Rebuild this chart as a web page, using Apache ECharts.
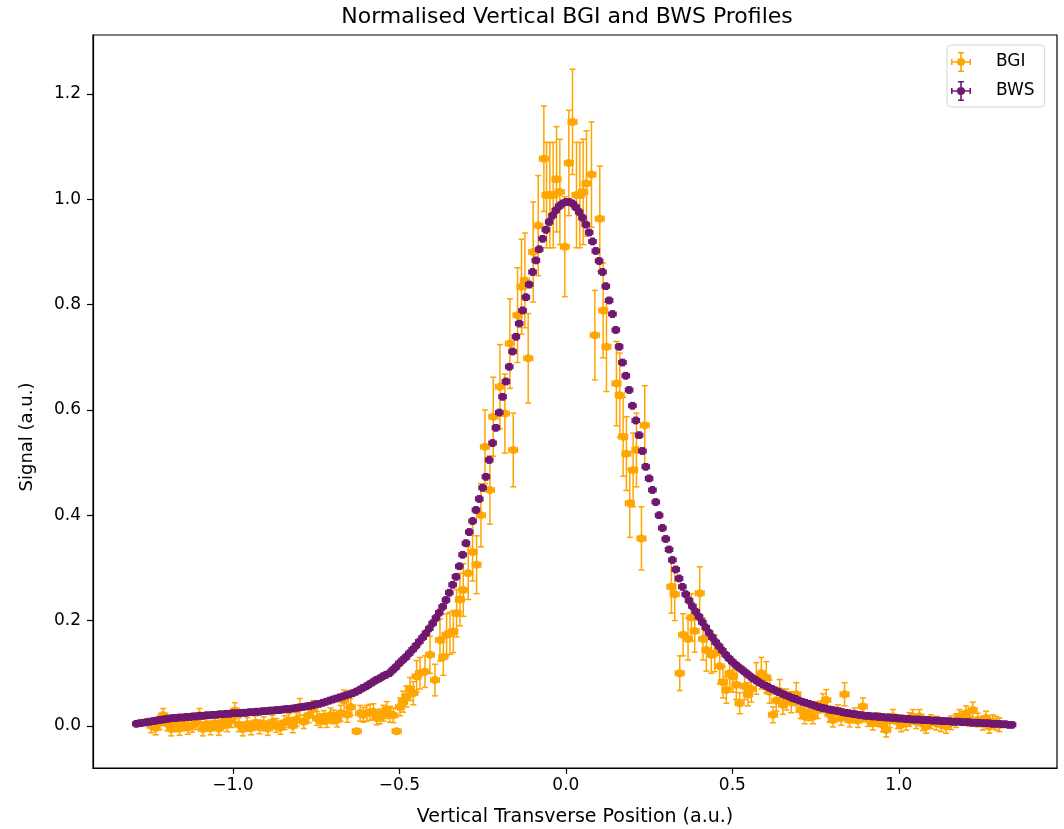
<!DOCTYPE html>
<html>
<head>
<meta charset="utf-8">
<script src="https://cdn.jsdelivr.net/npm/echarts@6/dist/echarts.min.js"></script>
<style>
html,body{margin:0;padding:0;background:#fff;}
#chart{width:1064px;height:829px;}
</style>
</head>
<body>
<div id="chart"></div>
<script>
// ---------- text ----------
const titleText = 'Normalised Vertical BGI and BWS Profiles';
const xAxisName = 'Vertical Transverse Position (a.u.)';
const yAxisName = 'Signal (a.u.)';
const seriesNames = ['BGI', 'BWS'];

// ---------- tick labels ----------
const xTicks = [-1.0, -0.5, 0.0, 0.5, 1.0];
const yTicks = [0.0, 0.2, 0.4, 0.6, 0.8, 1.0, 1.2];

// ---------- BGI (orange, with error bars) ----------
const bgiX = [
  -1.245,-1.232,-1.220,-1.209,-1.197,-1.185,-1.172,-1.160,-1.147,-1.135,
  -1.122,-1.110,-1.100,-1.090,-1.080,-1.067,-1.055,-1.042,-1.030,-1.017,
  -1.005,-0.994,-0.982,-0.970,-0.957,-0.945,-0.932,-0.920,-0.907,-0.895,
  -0.882,-0.870,-0.857,-0.845,-0.832,-0.820,-0.809,-0.799,-0.787,-0.772,
  -0.759,-0.747,-0.737,-0.727,-0.717,-0.707,-0.697,-0.687,-0.676,-0.666,
  -0.656,-0.646,-0.628,-0.618,-0.608,-0.598,-0.588,-0.578,-0.568,-0.558,
  -0.548,-0.538,-0.528,-0.518,-0.508,-0.498,-0.489,-0.479,-0.468,-0.458,
  -0.448,-0.438,-0.423,-0.408,-0.393,-0.378,-0.368,-0.358,-0.348,-0.338,
  -0.328,-0.318,-0.308,-0.293,-0.280,-0.268,-0.255,-0.243,-0.228,-0.218,
  -0.198,-0.183,-0.168,-0.158,-0.145,-0.133,-0.123,-0.113,-0.098,-0.083,
  -0.066,-0.058,-0.048,-0.038,-0.028,-0.018,-0.003,0.009,0.020,0.032,
  0.042,0.052,0.062,0.077,0.087,0.102,0.112,0.122,0.152,0.162,
  0.172,0.182,0.192,0.202,0.212,0.227,0.237,0.317,0.327,0.342,
  0.352,0.367,0.377,0.387,0.402,0.412,0.422,0.437,0.447,0.462,
  0.472,0.482,0.492,0.502,0.512,0.522,0.537,0.547,0.557,0.572,
  0.587,0.602,0.612,0.622,0.632,0.642,0.652,0.662,0.677,0.692,
  0.705,0.717,0.730,0.742,0.757,0.772,0.782,0.792,0.802,0.817,
  0.827,0.837,0.852,0.867,0.877,0.892,0.907,0.922,0.937,0.952,
  0.962,0.972,0.982,0.997,1.007,1.022,1.032,1.042,1.052,1.062,
  1.072,1.082,1.097,1.112,1.127,1.142,1.157,1.172,1.182,1.192,
  1.202,1.212,1.222,1.237,1.252,1.262,1.272,1.282,1.292,1.302
];
const bgiY = [
  0.000,-0.004,0.006,0.020,0.004,-0.006,0.002,-0.005,0.004,-0.003,
  0.001,0.006,0.020,-0.006,0.003,-0.004,0.005,-0.005,0.008,0.002,
  0.010,0.029,0.002,-0.006,0.003,-0.004,0.006,-0.002,0.004,-0.005,
  0.007,0.001,-0.003,0.006,0.010,0.000,0.012,0.036,0.008,0.020,
  0.032,0.014,0.010,0.016,0.010,0.020,0.017,0.011,0.024,0.048,
  0.021,0.036,-0.010,0.024,0.021,0.024,0.026,0.027,0.015,0.018,
  0.024,0.030,0.022,0.020,-0.010,0.036,0.046,0.056,0.070,0.062,
  0.094,0.100,0.103,0.135,0.087,0.163,0.131,0.173,0.176,0.179,
  0.214,0.240,0.258,0.290,0.330,0.306,0.400,0.530,0.448,0.587,
  0.644,0.593,0.726,0.524,0.780,0.834,0.846,0.698,0.900,0.950,
  1.077,1.008,1.008,1.008,1.038,1.014,0.910,1.069,1.147,1.008,
  1.008,1.014,1.030,1.047,0.742,0.963,0.789,0.720,0.650,0.628,
  0.549,0.517,0.423,0.486,0.524,0.356,0.571,0.264,0.250,0.100,
  0.173,0.165,0.206,0.180,0.252,0.165,0.144,0.135,0.138,0.113,
  0.083,0.068,0.100,0.094,0.078,0.043,0.075,0.060,0.070,0.090,
  0.100,0.092,0.065,0.021,0.048,0.066,0.040,0.050,0.045,0.060,
  0.030,0.018,0.025,0.018,0.030,0.043,0.049,0.022,0.011,0.025,
  0.015,0.060,0.011,0.020,0.010,0.037,0.012,0.005,0.012,0.002,
  -0.008,0.010,0.018,0.008,0.002,0.005,0.012,0.018,0.008,0.018,
  0.004,-0.001,0.008,0.005,0.002,-0.001,0.006,0.010,0.018,0.014,
  0.024,0.012,0.030,0.011,0.005,0.015,-0.001,0.008,0.005,0.002
];
const bgiErr = [
  0.013,0.013,0.013,0.013,0.013,0.013,0.013,0.013,0.013,0.013,
  0.013,0.013,0.013,0.013,0.013,0.013,0.013,0.013,0.013,0.013,
  0.013,0.015,0.013,0.013,0.013,0.013,0.013,0.013,0.013,0.013,
  0.013,0.013,0.013,0.013,0.013,0.013,0.013,0.016,0.013,0.014,
  0.016,0.013,0.013,0.013,0.013,0.014,0.013,0.013,0.015,0.020,
  0.014,0.016,0.004,0.015,0.014,0.015,0.015,0.015,0.013,0.014,
  0.015,0.016,0.015,0.014,0.004,0.017,0.020,0.020,0.022,0.022,
  0.030,0.030,0.030,0.035,0.030,0.040,0.035,0.040,0.040,0.040,
  0.045,0.050,0.050,0.050,0.055,0.055,0.060,0.070,0.065,0.075,
  0.080,0.075,0.085,0.070,0.090,0.090,0.090,0.085,0.095,0.095,
  0.100,0.100,0.100,0.100,0.100,0.100,0.095,0.100,0.100,0.100,
  0.100,0.100,0.100,0.100,0.085,0.100,0.090,0.085,0.080,0.080,
  0.075,0.070,0.065,0.070,0.070,0.060,0.075,0.050,0.050,0.033,
  0.040,0.040,0.045,0.040,0.050,0.040,0.040,0.035,0.035,0.033,
  0.030,0.025,0.030,0.030,0.028,0.020,0.025,0.022,0.025,0.030,
  0.030,0.030,0.022,0.015,0.020,0.022,0.018,0.020,0.020,0.022,
  0.016,0.014,0.015,0.014,0.016,0.018,0.020,0.015,0.013,0.015,
  0.014,0.022,0.013,0.014,0.013,0.016,0.013,0.013,0.013,0.013,
  0.013,0.013,0.013,0.013,0.013,0.013,0.013,0.013,0.013,0.013,
  0.013,0.013,0.013,0.013,0.013,0.013,0.013,0.013,0.013,0.013,
  0.014,0.013,0.015,0.013,0.013,0.013,0.013,0.013,0.013,0.013
];
const bgiXErr = 0.013;

// ---------- BWS (purple) ----------
const bwsX = [
  -1.29,-1.28,-1.27,-1.26,-1.25,-1.24,-1.23,-1.22,-1.21,-1.20,
  -1.19,-1.18,-1.17,-1.16,-1.15,-1.14,-1.13,-1.12,-1.11,-1.10,
  -1.09,-1.08,-1.07,-1.06,-1.05,-1.04,-1.03,-1.02,-1.01,-1.00,
  -0.99,-0.98,-0.97,-0.96,-0.95,-0.94,-0.93,-0.92,-0.91,-0.90,
  -0.89,-0.88,-0.87,-0.86,-0.85,-0.84,-0.83,-0.82,-0.81,-0.80,
  -0.79,-0.78,-0.77,-0.76,-0.75,-0.74,-0.73,-0.72,-0.71,-0.70,
  -0.69,-0.68,-0.67,-0.66,-0.65,-0.64,-0.63,-0.62,-0.61,-0.60,
  -0.59,-0.58,-0.57,-0.56,-0.55,-0.54,-0.53,-0.52,-0.51,-0.50,
  -0.49,-0.48,-0.47,-0.46,-0.45,-0.44,-0.43,-0.42,-0.41,-0.40,
  -0.39,-0.38,-0.37,-0.36,-0.35,-0.34,-0.33,-0.32,-0.31,-0.30,
  -0.29,-0.28,-0.27,-0.26,-0.25,-0.24,-0.23,-0.22,-0.21,-0.20,
  -0.19,-0.18,-0.17,-0.16,-0.15,-0.14,-0.13,-0.12,-0.11,-0.10,
  -0.09,-0.08,-0.07,-0.06,-0.05,-0.04,-0.03,-0.02,-0.01,0.00,
  0.01,0.02,0.03,0.04,0.05,0.06,0.07,0.08,0.09,0.10,
  0.11,0.12,0.13,0.14,0.15,0.16,0.17,0.18,0.19,0.20,
  0.21,0.22,0.23,0.24,0.25,0.26,0.27,0.28,0.29,0.30,
  0.31,0.32,0.33,0.34,0.35,0.36,0.37,0.38,0.39,0.40,
  0.41,0.42,0.43,0.44,0.45,0.46,0.47,0.48,0.49,0.50,
  0.51,0.52,0.53,0.54,0.55,0.56,0.57,0.58,0.59,0.60,
  0.61,0.62,0.63,0.64,0.65,0.66,0.67,0.68,0.69,0.70,
  0.71,0.72,0.73,0.74,0.75,0.76,0.77,0.78,0.79,0.80,
  0.81,0.82,0.83,0.84,0.85,0.86,0.87,0.88,0.89,0.90,
  0.91,0.92,0.93,0.94,0.95,0.96,0.97,0.98,0.99,1.00,
  1.01,1.02,1.03,1.04,1.05,1.06,1.07,1.08,1.09,1.10,
  1.11,1.12,1.13,1.14,1.15,1.16,1.17,1.18,1.19,1.20,
  1.21,1.22,1.23,1.24,1.25,1.26,1.27,1.28,1.29,1.30,
  1.31,1.32,1.33,1.34
];
const bwsY = [
  0.004,0.005,0.006,0.007,0.008,0.009,0.010,0.011,0.012,0.013,
  0.014,0.015,0.015,0.016,0.016,0.017,0.017,0.018,0.018,0.019,
  0.019,0.020,0.020,0.021,0.021,0.022,0.022,0.023,0.023,0.024,
  0.024,0.024,0.025,0.025,0.026,0.026,0.027,0.027,0.028,0.028,
  0.029,0.029,0.030,0.030,0.031,0.032,0.032,0.033,0.034,0.035,
  0.036,0.037,0.038,0.039,0.041,0.042,0.044,0.046,0.048,0.050,
  0.052,0.054,0.056,0.058,0.060,0.062,0.065,0.068,0.072,0.075,
  0.079,0.083,0.087,0.090,0.094,0.097,0.100,0.106,0.112,0.119,
  0.125,0.131,0.138,0.145,0.152,0.160,0.168,0.176,0.185,0.195,
  0.205,0.215,0.226,0.239,0.253,0.268,0.283,0.303,0.325,0.347,
  0.368,0.389,0.410,0.431,0.452,0.473,0.505,0.537,0.566,0.595,
  0.625,0.654,0.682,0.711,0.739,0.764,0.789,0.814,0.838,0.862,
  0.884,0.905,0.925,0.942,0.957,0.969,0.979,0.987,0.992,0.995,
  0.995,0.992,0.985,0.976,0.965,0.952,0.937,0.920,0.902,0.883,
  0.862,0.835,0.808,0.782,0.752,0.720,0.690,0.665,0.638,0.608,
  0.580,0.552,0.522,0.492,0.470,0.448,0.425,0.400,0.376,0.355,
  0.335,0.315,0.297,0.280,0.264,0.250,0.238,0.227,0.217,0.207,
  0.197,0.187,0.177,0.168,0.159,0.151,0.143,0.135,0.128,0.122,
  0.116,0.111,0.106,0.101,0.096,0.091,0.087,0.083,0.079,0.076,
  0.073,0.070,0.067,0.064,0.061,0.058,0.056,0.053,0.051,0.048,
  0.046,0.044,0.042,0.040,0.038,0.036,0.034,0.033,0.031,0.030,
  0.029,0.028,0.026,0.025,0.024,0.023,0.022,0.021,0.020,0.019,
  0.019,0.018,0.018,0.017,0.017,0.016,0.016,0.015,0.015,0.014,
  0.014,0.013,0.013,0.012,0.012,0.012,0.011,0.011,0.011,0.010,
  0.010,0.010,0.009,0.009,0.009,0.008,0.008,0.008,0.007,0.007,
  0.007,0.006,0.006,0.006,0.005,0.005,0.005,0.004,0.004,0.004,
  0.003,0.003,0.002,0.002
];
const bwsYErr = 0.006;
const bwsXErr = 0.011;

// ---------- style ----------
const ORANGE = '#ffa500';
const PURPLE = '#701870';
const FONT = 'DejaVu Sans';

const crossIcon = 'path://M0 9.2H20V10.8H0Z M9.2 0H10.8V20H9.2Z M0 7H1.6V13H0Z M18.4 7H20V13H18.4Z M7 0H13V1.6H7Z M7 18.4H13V20H7Z M6 10A4 4 0 1 1 14 10A4 4 0 1 1 6 10Z';

function fmt(v) {
  return v.toFixed(1).replace('-', '\u2212');
}

function makeErrRender(xerr, capHalf, color, lw) {
  return function (params, api) {
    const x = api.value(0), y = api.value(1), e = api.value(2);
    const p = api.coord([x, y]);
    const t = api.coord([x, y + e])[1];
    const b = api.coord([x, y - e])[1];
    const l = api.coord([x - xerr, y])[0];
    const r = api.coord([x + xerr, y])[0];
    const st = { stroke: color, lineWidth: lw, fill: null };
    const seg = (x1, y1, x2, y2) => ({ type: 'line', shape: { x1, y1, x2, y2 }, style: st, silent: true });
    return {
      type: 'group',
      children: [
        seg(p[0], t, p[0], b),
        seg(p[0] - capHalf, t, p[0] + capHalf, t),
        seg(p[0] - capHalf, b, p[0] + capHalf, b),
        seg(l, p[1], r, p[1]),
        seg(l, p[1] - capHalf, l, p[1] + capHalf),
        seg(r, p[1] - capHalf, r, p[1] + capHalf)
      ]
    };
  };
}

const bgiErrData = bgiX.map((x, i) => [x, bgiY[i], bgiErr[i]]);
const bgiPts = bgiX.map((x, i) => [x, bgiY[i]]);
const bwsErrData = bwsX.map((x, i) => [x, bwsY[i], bwsYErr]);
const bwsPts = bwsX.map((x, i) => [x, bwsY[i]]);

const chart = echarts.init(document.getElementById('chart'), null, { renderer: 'canvas' });

const option = {
  animation: false,
  backgroundColor: '#fff',
  textStyle: { fontFamily: FONT },
  graphic: [
    {
      type: 'text', x: 567, y: 17, z: 10,
      style: { text: titleText, fontFamily: FONT, fontSize: 22, fill: '#000', align: 'center', verticalAlign: 'middle' }
    },
    {
      type: 'text', x: 27, y: 437, rotation: Math.PI / 2, z: 10,
      style: { text: yAxisName, fontFamily: FONT, fontSize: 18, fill: '#000', align: 'center', verticalAlign: 'middle' }
    }
  ],
  grid: {
    left: 93, right: 7, top: 35, bottom: 61,
    outerBoundsMode: 'none', containLabel: false,
    show: true, borderColor: '#000', borderWidth: 1.2, backgroundColor: 'transparent'
  },
  legend: {
    orient: 'vertical', left: 947, top: 45,
    padding: [7, 10, 6, 4], itemGap: 9, itemWidth: 20, itemHeight: 20,
    borderColor: '#d4d4d4', borderWidth: 1, borderRadius: 4,
    backgroundColor: 'rgba(255,255,255,0.85)',
    textStyle: { fontFamily: FONT, fontSize: 17, color: '#000', padding: [0, 0, 0, 20] },
    data: [
      { name: seriesNames[0], icon: crossIcon, itemStyle: { color: ORANGE } },
      { name: seriesNames[1], icon: crossIcon, itemStyle: { color: PURPLE } }
    ]
  },
  xAxis: {
    type: 'value', min: -1.42, max: 1.475,
    name: xAxisName, nameLocation: 'middle', nameGap: 40,
    nameTextStyle: { fontFamily: FONT, fontSize: 19, color: '#000' },
    splitLine: { show: false },
    axisLine: { show: true, onZero: false, lineStyle: { color: '#000', width: 1.2 } },
    axisTick: { show: true, customValues: xTicks, length: 6, lineStyle: { color: '#000', width: 1.2 } },
    axisLabel: { customValues: xTicks, formatter: fmt, fontFamily: FONT, fontSize: 17, color: '#000', margin: 9 }
  },
  yAxis: {
    type: 'value', min: -0.08, max: 1.312,
    splitLine: { show: false },
    axisLine: { show: true, onZero: false, lineStyle: { color: '#000', width: 1.2 } },
    axisTick: { show: true, customValues: yTicks, length: 6, lineStyle: { color: '#000', width: 1.2 } },
    axisLabel: { customValues: yTicks, formatter: fmt, fontFamily: FONT, fontSize: 17, color: '#000', margin: 12 }
  },
  series: [
    {
      name: 'BGI errors', type: 'custom', renderItem: makeErrRender(bgiXErr, 3, ORANGE, 1.5),
      data: bgiErrData, encode: { x: 0, y: 1 }, dimensions: ['x', 'y', 'e'], z: 2, silent: true
    },
    {
      name: seriesNames[0], type: 'scatter', data: bgiPts, symbol: 'circle', symbolSize: 8,
      itemStyle: { color: ORANGE, opacity: 1 }, z: 3, silent: true
    },
    {
      name: 'BWS errors', type: 'custom', renderItem: makeErrRender(bwsXErr, 2.5, PURPLE, 1.3),
      data: bwsErrData, encode: { x: 0, y: 1 }, dimensions: ['x', 'y', 'e'], z: 4, silent: true
    },
    {
      name: seriesNames[1], type: 'scatter', data: bwsPts, symbol: 'circle', symbolSize: 7.5,
      itemStyle: { color: PURPLE, opacity: 1 }, z: 5, silent: true
    }
  ]
};

chart.setOption(option);
</script>
</body>
</html>
